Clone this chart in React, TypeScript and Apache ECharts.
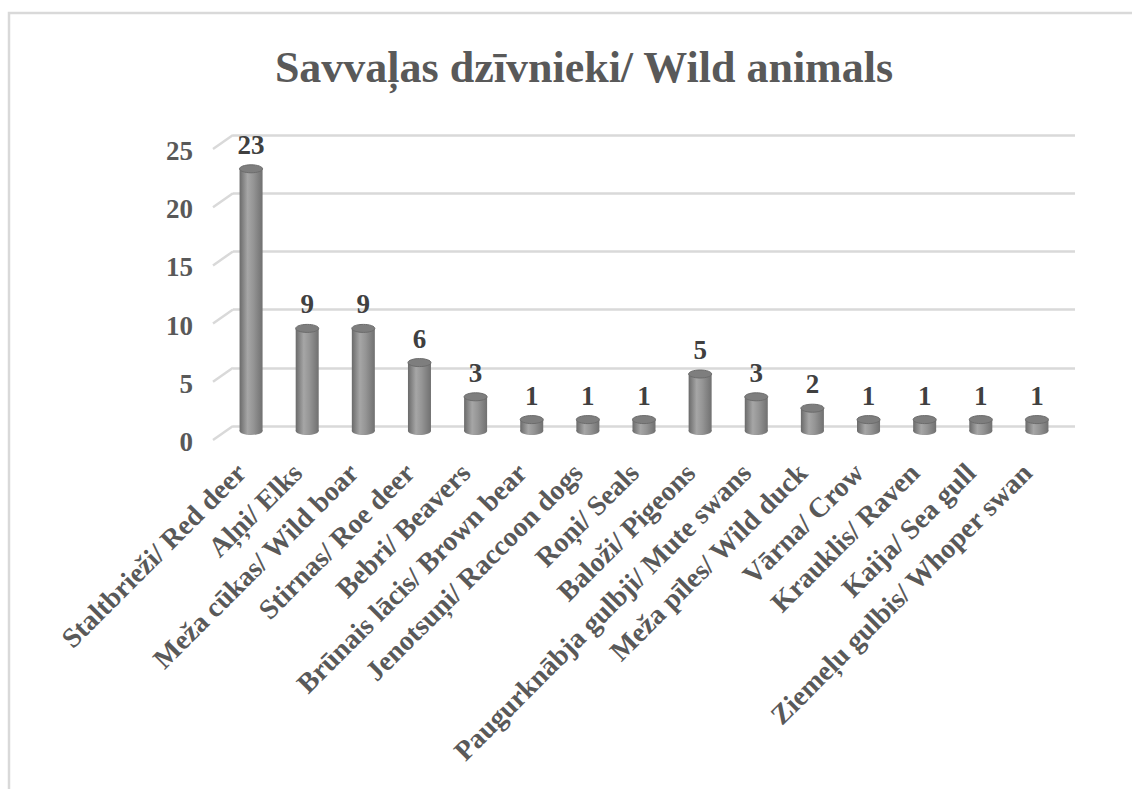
import React, { useEffect, useRef } from "react";
import * as echarts from "echarts";

const categories = [
  "Staltbrieži/ Red deer",
  "Aļņi/ Elks",
  "Meža cūkas/ Wild boar",
  "Stirnas/ Roe deer",
  "Bebri/ Beavers",
  "Brūnais lācis/ Brown bear",
  "Jenotsuņi/ Raccoon dogs",
  "Roņi/ Seals",
  "Baloži/ Pigeons",
  "Paugurknābja gulbji/ Mute swans",
  "Meža pīles/ Wild duck",
  "Vārna/ Crow",
  "Krauklis/ Raven",
  "Kaija/ Sea gull",
  "Ziemeļu gulbis/ Whoper swan",
];
const values = [23, 9, 9, 6, 3, 1, 1, 1, 5, 3, 2, 1, 1, 1, 1];
const yTicks = [0, 5, 10, 15, 20, 25];
const titleText = "Savvaļas dzīvnieki/ Wild animals";

const FONT = '"Liberation Serif", "Times New Roman", serif';

export default function App() {
  const ref = useRef<HTMLDivElement>(null);
  useEffect(() => {
    if (!ref.current) return;
    const chart = echarts.init(ref.current, undefined, { renderer: "svg" });
    const W = 1132;
    const H = 789;
    const option: any = {
      animation: false,
      backgroundColor: "#ffffff",
      title: {
        text: titleText,
        left: 579,
        top: 40,
        textAlign: "center",
        textStyle: {
          fontFamily: FONT,
          fontSize: 44,
          fontWeight: "bold",
          color: "#595959",
        },
      },
      graphic: [
        {
          type: "rect",
          shape: { x: 9, y: 13, width: 1300, height: 900 },
          style: { fill: "none", stroke: "#d9d9d9", lineWidth: 2.5 },
          silent: true,
        },
      ],
      grid: [
        // back wall (gridlines)
        { left: 233, right: W - 1075, top: 135, bottom: H - 426 },
        // bars
        { left: 223, right: W - 1065, top: 146, bottom: H - 431 },
        // front (axis labels)
        { left: 213, right: W - 1055, top: 151, bottom: H - 442 },
      ],
      xAxis: [
        { gridIndex: 0, type: "value", min: 0, max: 1, show: false },
        {
          gridIndex: 1,
          type: "category",
          data: categories,
          show: false,
        },
        {
          gridIndex: 2,
          type: "category",
          data: categories,
          axisLine: { show: false },
          axisTick: { show: false },
          axisLabel: {
            interval: 0,
            rotate: 45,
            margin: 26,
            fontFamily: FONT,
            fontSize: 28,
            fontWeight: "bold",
            color: "#595959",
          },
        },
      ],
      yAxis: [
        {
          gridIndex: 0,
          type: "value",
          min: 0,
          max: 25,
          interval: 5,
          axisLabel: { show: false },
          axisLine: { show: false },
          axisTick: { show: false },
          splitLine: { show: true, lineStyle: { color: "#d9d9d9", width: 2.5 } },
        },
        {
          gridIndex: 1,
          type: "value",
          min: 0,
          max: 25,
          show: false,
        },
        {
          gridIndex: 2,
          type: "value",
          min: 0,
          max: 25,
          interval: 5,
          axisLine: { show: false },
          axisTick: { show: false },
          splitLine: { show: false },
          axisLabel: {
            margin: 20,
            fontFamily: FONT,
            fontSize: 27,
            fontWeight: "bold",
            color: "#595959",
          },
        },
      ],
      series: [
        {
          type: "custom",
          xAxisIndex: 0,
          yAxisIndex: 0,
          silent: true,
          data: yTicks.map((t) => [0, t]),
          renderItem: (params: any, api: any) => {
            const p = api.coord([0, api.value(1)]);
            return {
              type: "line",
              shape: { x1: p[0] - 20, y1: p[1] + 14, x2: p[0], y2: p[1] },
              style: { stroke: "#d9d9d9", lineWidth: 2.5 },
            };
          },
        },
        {
          type: "custom",
          xAxisIndex: 1,
          yAxisIndex: 1,
          data: values.map((v, i) => [i, v]),
          encode: { x: 0, y: 1 },
          renderItem: (params: any, api: any) => {
            const idx = api.value(0);
            const v = api.value(1);
            const top = api.coord([idx, v]);
            const base = api.coord([idx, 0]);
            const w = api.size([1, 0])[0] * 0.41;
            const rx = w / 2;
            const ry = 4;
            const grad = () =>
              new echarts.graphic.LinearGradient(0, 0, 1, 0, [
                { offset: 0, color: "#6a6a6a" },
                { offset: 0.35, color: "#a6a6a6" },
                { offset: 0.6, color: "#959595" },
                { offset: 1, color: "#707070" },
              ]);
            return {
              type: "group",
              children: [
                {
                  type: "ellipse",
                  shape: { cx: base[0], cy: base[1], rx, ry },
                  style: { fill: grad() },
                },
                {
                  type: "rect",
                  shape: { x: top[0] - rx, y: top[1], width: w, height: base[1] - top[1] },
                  style: { fill: grad() },
                },
                {
                  type: "ellipse",
                  shape: { cx: top[0], cy: top[1], rx, ry },
                  style: { fill: "#7e7e7e", stroke: "#6c6c6c", lineWidth: 1 },
                },
                {
                  type: "text",
                  style: {
                    text: String(v),
                    x: top[0],
                    y: top[1] - 24,
                    align: "center",
                    verticalAlign: "middle",
                    font: 'bold 27px "Liberation Serif", "Times New Roman", serif',
                    fill: "#404040",
                  },
                },
              ],
            };
          },
        },
      ],
    };
    chart.setOption(option);
    return () => chart.dispose();
  }, []);
  return (
    <div
      ref={ref}
      style={{ position: "absolute", left: 0, top: 0, width: 1132, height: 789 }}
    />
  );
}
